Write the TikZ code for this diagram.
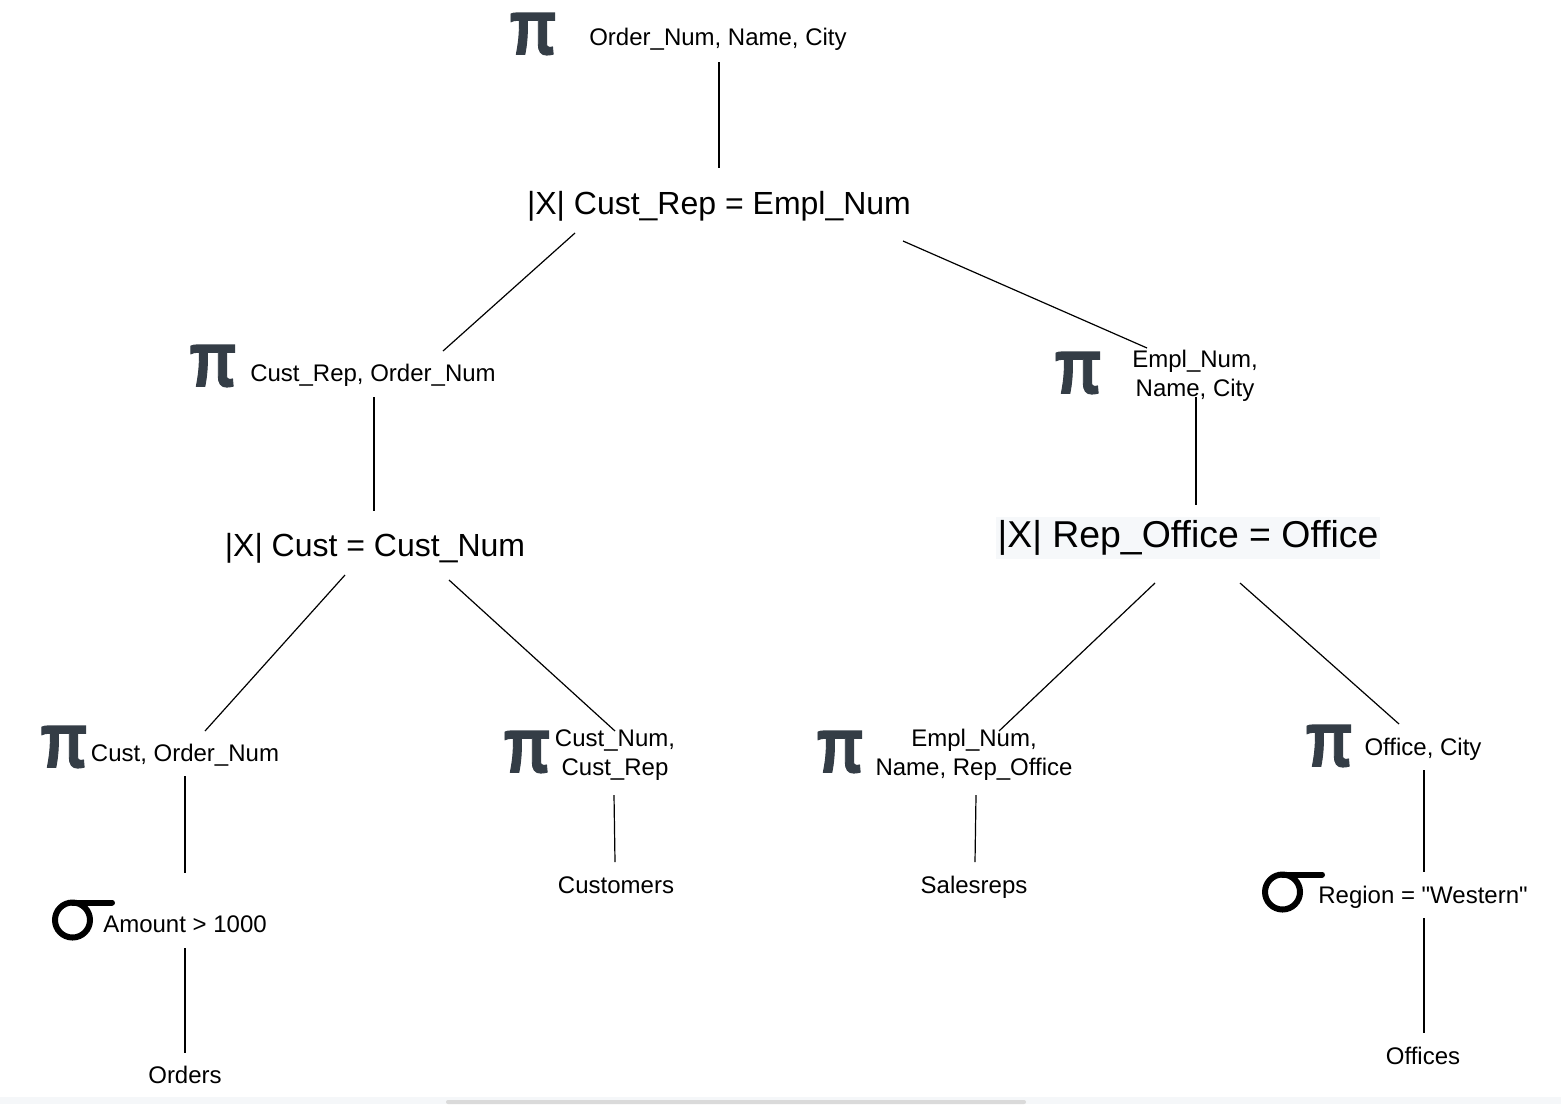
\documentclass[tikz,border=0pt]{standalone}
\usepackage{fontspec}
\setmainfont{Liberation Sans}
\definecolor{pigray}{HTML}{343D46}
\definecolor{hlbg}{HTML}{F6F8FA}
\definecolor{stripbg}{HTML}{F5F7F9}
\definecolor{bargray}{HTML}{DADADA}
\newcommand\strquote{\XeTeXglyph\XeTeXcharglyph"22\relax}
\newcommand\pisym{\scalebox{0.78}[1]{π}}
\tikzset{
  cols/.style={font=\fontsize{12}{14.5}\selectfont, align=center, inner sep=0pt},
  joinop/.style={font=\fontsize{16}{19}\selectfont, inner sep=0pt},
  proj/.style={font=\fontsize{39}{40}\selectfont\bfseries\addfontfeatures{FakeBold=1.5}, text=pigray, inner sep=0pt},
  sigcirc/.style={circle, draw, line width=3pt, minimum size=17.5pt, inner sep=0pt, outer sep=0pt},
  sigbar/.style={line width=3pt, line cap=round},
  rel/.style={font=\fontsize{12}{14.5}\selectfont, inner sep=0pt},
}
\begin{document}
\begin{tikzpicture}[x=0.5pt,y=-0.5pt, treeline/.style={line width=0.6pt}]
\fill[white] (0,0) rectangle (1561,1104);
\useasboundingbox (0,0) rectangle (1561,1104);
\fill[stripbg] (0,1097) rectangle (1561,1104);
\fill[bargray, rounded corners=1pt] (446,1100) rectangle (1026,1104);

% top of the tree
\node[proj] (pi0) at (533,34) {\pisym};
\node[cols] (p0) at (718,39) {Order\_Num, Name, City};
\node[joinop] (j0) at (719,206) {|X| Cust\_Rep = Empl\_Num};

% left branch
\node[proj] (pi1) at (213,366) {\pisym};
\node[cols] (p1) at (373,375) {Cust\_Rep, Order\_Num};
\node[joinop] (j1) at (375,548) {|X| Cust = Cust\_Num};
\node[proj] (pi3) at (64,747) {\pisym};
\node[cols] (p3) at (185,755) {Cust, Order\_Num};
\node[sigcirc] (sg1) at (72.5,920) {};
\draw[sigbar] (sg1.north) -- ++(39.5,0);
\node[cols] (s1) at (185,924) {Amount > 1000};
\node[rel] (orders) at (185,1075) {Orders};
\node[proj] (pi4) at (527,752) {\pisym};
\node[cols] (p4) at (615,755) {Cust\_Num,\\Cust\_Rep};
\node[rel] (customers) at (616,885) {Customers};

% right branch
\node[proj] (pi2) at (1078,373) {\pisym};
\node[cols] (p2) at (1195,376) {Empl\_Num,\\Name, City};
\node[joinop, font=\fontsize{18.7}{21}\selectfont, fill=hlbg, inner xsep=1pt, minimum height=21pt] (j2) at (1188,538) {|X| Rep\_Office = Office};
\node[proj] (pi5) at (840,752) {\pisym};
\node[cols] (p5) at (974,755) {Empl\_Num,\\Name, Rep\_Office};
\node[rel] (salesreps) at (974,887) {Salesreps};
\node[proj] (pi6) at (1329,746) {\pisym};
\node[cols] (p6) at (1423,749) {Office, City};
\node[sigcirc] (sg2) at (1282.5,892) {};
\draw[sigbar] (sg2.north) -- ++(39.5,0);
\node[cols] (s2) at (1423,897) {Region = \strquote Western\strquote};
\node[rel] (offices) at (1423,1056) {Offices};

% connectors
\draw[treeline] ([shift={(1,23)}]p0.center) -- ([shift={(0,-38)}]j0.center);
\draw[treeline] ([shift={(-144,27)}]j0.center) -- ([shift={(70,-24)}]p1.center);
\draw[treeline] ([shift={(184,35)}]j0.center) -- ([shift={(-48,-28)}]p2.center);
\draw[treeline] ([shift={(1,22)}]p1.center) -- ([shift={(-1,-37)}]j1.center);
\draw[treeline] ([shift={(1,21)}]p2.center) -- ([shift={(8,-33)}]j2.center);
\draw[treeline] ([shift={(-30,27)}]j1.center) -- ([shift={(20,-24)}]p3.center);
\draw[treeline] ([shift={(74,32)}]j1.center) -- ([shift={(0,-24)}]p4.center);
\draw[treeline] ([shift={(-33,45)}]j2.center) -- ([shift={(25,-24)}]p5.center);
\draw[treeline] ([shift={(52,45)}]j2.center) -- ([shift={(-24,-25)}]p6.center);
\draw[treeline] ([shift={(0,21)}]p3.center) -- ([shift={(0,-51)}]s1.center);
\draw[treeline] ([shift={(0,24)}]s1.center) -- ([shift={(0,-22)}]orders.center);
\draw[treeline] ([shift={(-1,40)}]p4.center) -- ([shift={(-1,-23)}]customers.center);
\draw[treeline] ([shift={(2,40)}]p5.center) -- ([shift={(1,-25)}]salesreps.center);
\draw[treeline] ([shift={(1,21)}]p6.center) -- ([shift={(1,-25)}]s2.center);
\draw[treeline] ([shift={(1,21)}]s2.center) -- ([shift={(1,-23)}]offices.center);
\end{tikzpicture}
\end{document}
